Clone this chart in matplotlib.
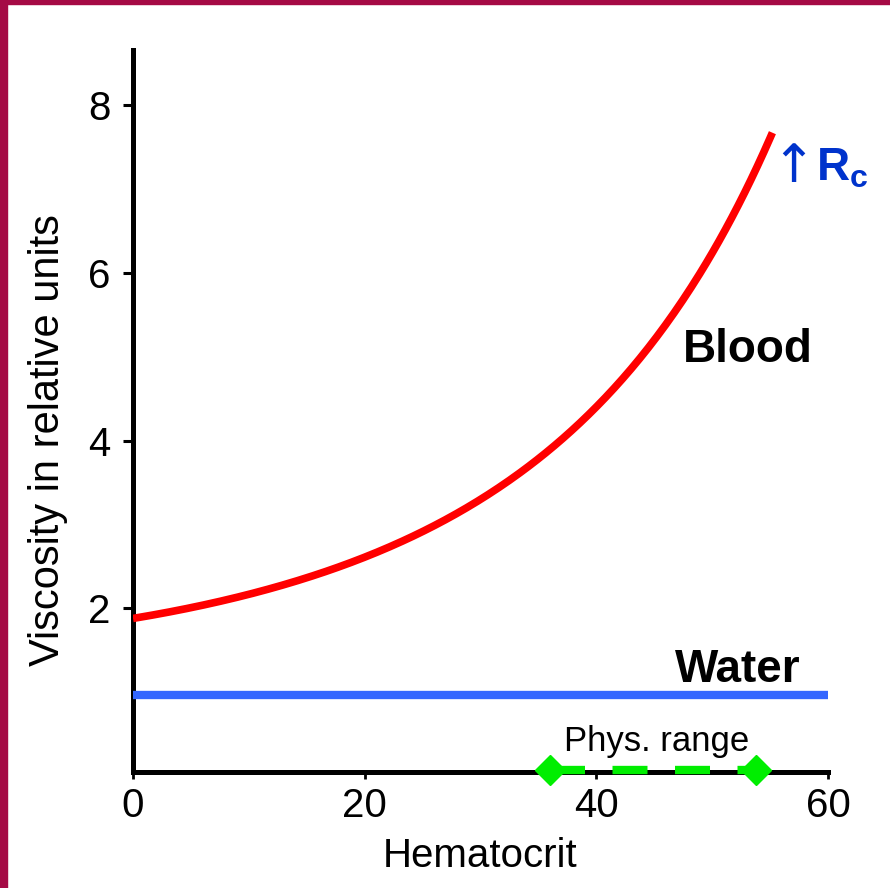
import numpy as np
import matplotlib.pyplot as plt
from matplotlib.patches import Rectangle

plt.rcParams['font.family'] = ['Liberation Sans', 'DejaVu Sans']
plt.rcParams['mathtext.fontset'] = 'custom'
plt.rcParams['mathtext.bf'] = 'Liberation Sans:bold'
plt.rcParams['mathtext.rm'] = 'Liberation Sans'

# Data
hct = [0, 8.4, 17.0, 25.6, 31.4, 35.1, 37.1, 39.5, 43.8, 47.2, 49.6, 52.4, 55.2]
blood = [1.88, 2.12, 2.45, 2.96, 3.41, 3.83, 4.04, 4.33, 4.96, 5.59, 6.16, 6.91, 7.64]
water_x = [0, 60]
water = [0.97, 0.97]
phys_x = [36.0, 53.8]
phys_y = [0.07, 0.07]
xticks = [0, 20, 40, 60]
yticks = [2, 4, 6, 8]

# smooth blood curve through read points
xs = np.linspace(hct[0], hct[-1], 300)
coef = np.polyfit(hct, np.log(blood), 4)
ys = np.exp(np.polyval(coef, xs))

fig = plt.figure(figsize=(8.9, 8.88), dpi=100)
ax = fig.add_axes([133 / 890, 116 / 888, 695 / 890, 722 / 888])

# slide border
fig.add_artist(Rectangle((0, 0), 7 / 890, 1, transform=fig.transFigure, color='#A50A45', zorder=10))
fig.add_artist(Rectangle((0, 1 - 4 / 888), 1, 4 / 888, transform=fig.transFigure, color='#A50A45', zorder=10))

ax.plot(xs, ys, color='#FF0000', lw=5.5, solid_capstyle='butt', zorder=3)
ax.plot(water_x, water, color='#3366FF', lw=6, solid_capstyle='butt', zorder=3)
ax.plot(phys_x, phys_y, color='#00EE00', lw=6, dashes=(4.2, 3.3),
        marker='D', ms=15, markevery=[0, 1], clip_on=False, zorder=4)

ax.set_xlim(0, 60)
ax.set_ylim(0.05, 8.66)
ax.set_xticks(xticks)
ax.set_yticks(yticks)

for s in ['top', 'right']:
    ax.spines[s].set_visible(False)
for s in ['left', 'bottom']:
    ax.spines[s].set_linewidth(3.6)

ax.tick_params(axis='y', length=7, width=2.2, pad=9, labelsize=29)
ax.tick_params(axis='x', length=5, width=2, pad=6, labelsize=29)

ax.set_xlabel('Hematocrit', fontsize=29)
ax.xaxis.set_label_coords(0.5, -0.09)
ax.set_ylabel('Viscosity in relative units', fontsize=30)
ax.yaxis.set_label_coords(-0.094, 0.46)

ax.text(58.7, 4.94, 'Blood', fontsize=33, fontweight='bold', ha='right', va='baseline')
ax.text(57.6, 1.12, 'Water', fontsize=33, fontweight='bold', ha='right', va='baseline')
ax.text(45.2, 0.3, 'Phys. range', fontsize=25, ha='center', va='baseline')
ax.text(58.95, 7.08, '\u2191', fontsize=38, color='#0033CC', ha='right', va='baseline',
        family=['DejaVu Sans'])
ax.text(58.95, 7.1, r'$\mathbf{R}_\mathbf{c}$', fontsize=33, color='#0033CC',
        ha='left', va='baseline')

fig.savefig('out.png', dpi=100)
